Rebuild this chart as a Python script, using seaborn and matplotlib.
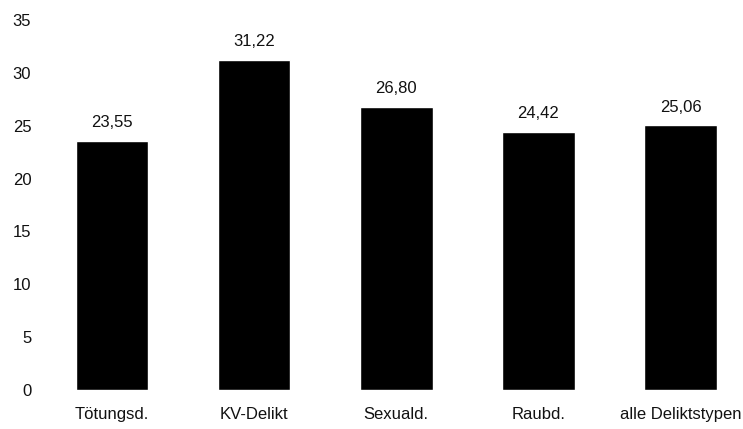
import pandas as pd
import seaborn as sns
import matplotlib.pyplot as plt

# data
categories = ['Tötungsd.', 'KV-Delikt', 'Sexuald.', 'Raubd.', 'alle Deliktstypen']
values = [23.55, 31.22, 26.80, 24.42, 25.06]
yticks = [0, 5, 10, 15, 20, 25, 30, 35]

df = pd.DataFrame({'kategorie': categories, 'wert': values})

sns.set_style('white')
plt.rcParams['font.family'] = ['Liberation Sans', 'DejaVu Sans']

fig = plt.figure(figsize=(7.43, 4.29), dpi=100)
ax = fig.add_axes([41 / 743, 39 / 429, 1 - 41 / 743, 370 / 429])

sns.barplot(data=df, x='kategorie', y='wert', color='black', width=0.51,
            saturation=1, ax=ax)

for i, v in enumerate(values):
    ax.text(i, v + 1.0, f'{v:.2f}'.replace('.', ','), ha='center', va='bottom',
            fontsize=12, color='#111111')

ax.set_ylim(0, 35)
ax.set_xlim(-0.5, 4.44)
ax.set_yticks(yticks)
ax.set_yticklabels([str(t) for t in yticks])
ax.set_xlabel('')
ax.set_ylabel('')
ax.tick_params(axis='y', labelsize=12, length=2, color='#dddddd', pad=5,
               labelcolor='#111111')
ax.tick_params(axis='x', labelsize=12, length=0, pad=12, labelcolor='#111111')
sns.despine(ax=ax, left=True, bottom=True)

fig.savefig('out.png', dpi=100)
